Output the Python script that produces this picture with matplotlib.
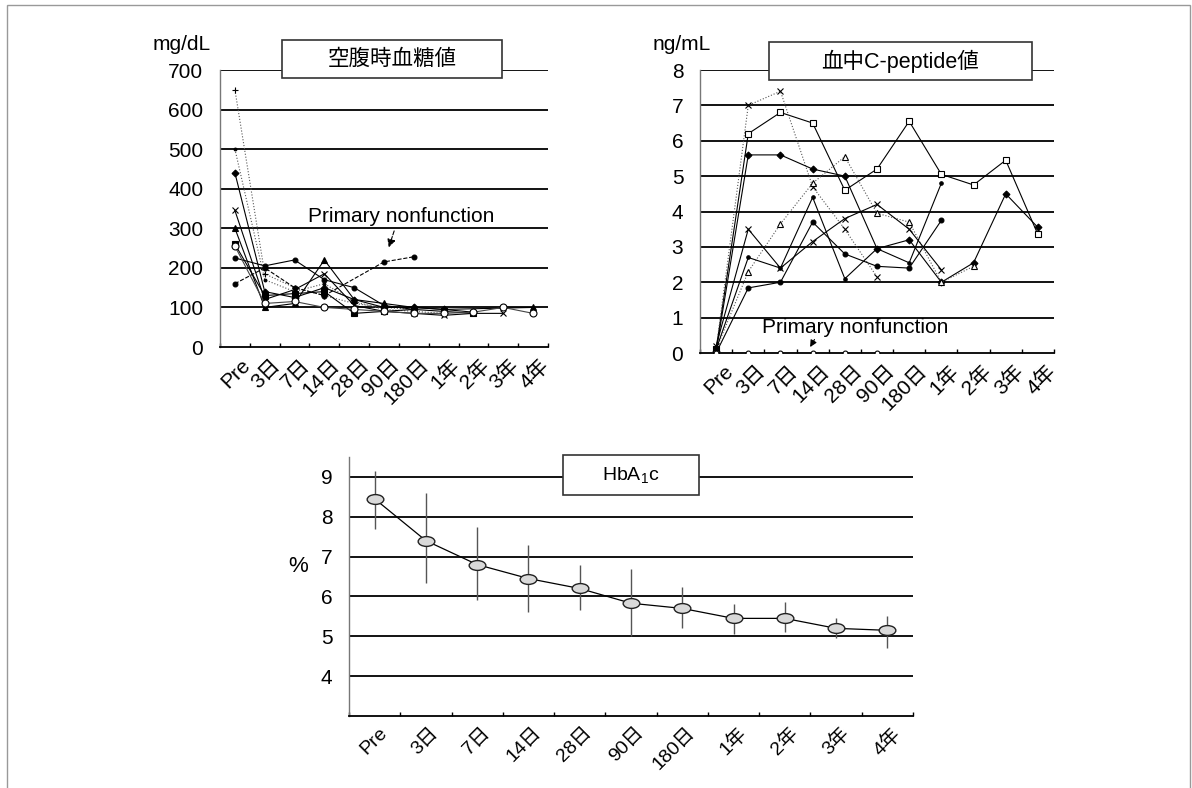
import numpy as np
import matplotlib
matplotlib.use('Agg')
import matplotlib.pyplot as plt
from matplotlib.patches import Rectangle
from matplotlib.path import Path
from matplotlib.transforms import Affine2D, ScaledTranslation

plt.rcParams['font.family'] = ['Liberation Sans', 'Noto Sans CJK JP']
plt.rcParams['mathtext.default'] = 'regular'

nan = np.nan
cats = ['Pre', '3日', '7日', '14日', '28日', '90日', '180日', '1年', '2年', '3年', '4年']

# 空腹時血糖値 (mg/dL), one list per patient
glu_a = [650, 185, 150, 130, 110, 100, 95, nan, nan, nan, nan]
glu_b = [500, 170, 140, 160, 115, 95, 90, 85, nan, nan, nan]
glu_c = [440, 140, 125, 150, 120, 100, 100, 95, 88, nan, nan]
glu_d = [345, 120, 145, 185, 105, 90, 85, 80, 85, 85, nan]
glu_e = [300, 100, 110, 220, 120, 110, 100, 95, nan, nan, 100]
glu_f = [260, 130, 135, 140, 85, 90, 95, 90, 85, nan, nan]
glu_g = [225, 205, 220, 170, 150, 105, 95, nan, nan, nan, nan]
glu_h = [255, 110, 115, 100, 95, 90, 85, 85, 88, 100, 85]
glu_pnf = [160, 200, 150, 130, nan, 215, 228, nan, nan, nan, nan]

# 血中C-peptide値 (ng/mL)
cp_a = [0.1, 6.2, 6.8, 6.5, 4.6, 5.2, 6.55, 5.05, 4.75, 5.45, 3.35]
cp_b = [0.1, 7.0, 7.4, 4.7, 3.5, 2.15, nan, nan, nan, nan, nan]
cp_c = [0.05, 5.6, 5.6, 5.2, 5.0, 2.95, 3.2, 2.0, 2.55, 4.5, 3.55]
cp_d = [0.0, 1.84, 2.0, 3.7, 2.8, 2.45, 2.4, 3.75, nan, nan, nan]
cp_e = [0.1, 2.3, 3.65, 4.8, 5.55, 3.95, 3.7, 2.0, 2.45, nan, nan]
cp_f = [0.2, 3.5, 2.4, 3.15, 3.8, 4.2, 3.5, 2.35, nan, nan, nan]
cp_g = [0.1, 2.7, 2.4, 4.4, 2.1, 2.95, 2.55, 4.8, nan, nan, nan]
cp_pnf = [0, 0, 0, 0, 0, 0, nan, nan, nan, nan, nan]

# HbA1c (%), mean and range
hba1c = [8.45, 7.4, 6.8, 6.45, 6.2, 5.83, 5.7, 5.45, 5.45, 5.2, 5.15]
hba1c_lo = [7.7, 6.35, 5.9, 5.6, 5.65, 5.0, 5.2, 5.05, 5.1, 4.95, 4.7]
hba1c_hi = [9.15, 8.6, 7.75, 7.3, 6.8, 6.7, 6.25, 5.8, 5.85, 5.45, 5.5]

W, H = 1192, 788
fig = plt.figure(figsize=(W / 100, H / 100), dpi=100)


def px_axes(x0, y0, x1, y1):
    return fig.add_axes([x0 / W, 1 - y1 / H, (x1 - x0) / W, (y1 - y0) / H])


def style(ax, ylim, yticks, label_dx, xsize=15):
    ax.set_xlim(-0.5, 10.5)
    ax.set_ylim(*ylim)
    ax.spines['top'].set_visible(False)
    ax.spines['right'].set_visible(False)
    ax.spines['left'].set_color('#777777')
    ax.spines['left'].set_linewidth(1)
    ax.spines['bottom'].set_linewidth(1.3)
    for t in yticks[1:]:
        ax.axhline(t, color='black', lw=1.3, zorder=1)
    ax.set_yticks(yticks)
    ax.tick_params(axis='y', length=0, pad=12, labelsize=15)
    ax.set_xticks(range(len(cats)))
    ax.set_xticklabels(cats, rotation=45, ha='right', rotation_mode='anchor', fontsize=xsize)
    ax.tick_params(axis='x', length=0, pad=6)
    ax.set_xticks(np.arange(-0.5, len(cats), 1), minor=True)
    ax.tick_params(axis='x', which='minor', direction='in', length=3, width=1)
    off = ScaledTranslation(label_dx / 100, 0, fig.dpi_scale_trans)
    for lab in ax.get_xticklabels():
        lab.set_transform(lab.get_transform() + off)


def series(ax, vals, marker, ls='-', color='black', mfc='black', ms=4, lw=0.8):
    x = np.arange(len(vals))
    y = np.array(vals, dtype=float)
    m = ~np.isnan(y)
    ax.plot(x[m], y[m], ls=ls, color=color, lw=lw, marker=marker, ms=ms,
            mfc=mfc, mec='black', mew=0.8, zorder=3)


def title_box(x0, y0, x1, y1, text, size):
    fig.add_artist(Rectangle((x0 / W, 1 - y1 / H), (x1 - x0) / W, (y1 - y0) / H,
                             transform=fig.transFigure, facecolor='white',
                             edgecolor='#333333', lw=1.2, zorder=10))
    fig.text((x0 + x1) / 2 / W, 1 - (y0 + y1) / 2 / H, text, ha='center', va='center',
             fontsize=size, zorder=11)


# outer frame
fig.add_artist(Rectangle((7 / W, -0.05), (1190 - 7) / W, 1 - 5 / H + 0.05,
                         transform=fig.transFigure, fill=False, edgecolor='#999999', lw=1))

# --- fasting glucose ---
ax1 = px_axes(220, 70, 548, 347)
style(ax1, (0, 700), list(range(0, 701, 100)), 6)
series(ax1, glu_a, '+', ls=':', color='#555555', ms=5)
series(ax1, glu_b, '.', ls=':', color='#555555', ms=4)
series(ax1, glu_c, 'D', ms=3.5)
series(ax1, glu_d, 'x', ms=4.5)
series(ax1, glu_e, '^', ms=4)
series(ax1, glu_f, 's', ms=4)
series(ax1, glu_g, 'o', ms=3.5)
series(ax1, glu_h, 'o', mfc='white', ms=5, color='#444444')
series(ax1, glu_pnf, 'o', ls='--', ms=3.5)
ax1.text(5.57, 331, 'Primary nonfunction', ha='center', va='center', fontsize=15)
ax1.annotate('', xy=(5.13, 245), xytext=(5.37, 300),
             arrowprops=dict(arrowstyle='-|>', ls='--', color='black', lw=0.8,
                             mutation_scale=12))
fig.text(153 / W, 1 - 45 / H, 'mg/dL', ha='left', va='center', fontsize=15)
title_box(282, 40, 502, 78, '空腹時血糖値', 15.5)

# --- C-peptide ---
ax2 = px_axes(700, 70, 1054, 353)
style(ax2, (0, 8), list(range(0, 9)), 8)
series(ax2, cp_a, 's', mfc='white', ms=5)
series(ax2, cp_b, 'x', ls=':', color='#555555', ms=4.5)
series(ax2, cp_c, 'D', ms=3.5)
series(ax2, cp_d, 'o', ms=3.5)
series(ax2, cp_e, '^', mfc='white', ms=5, ls=':', color='#555555')
series(ax2, cp_f, 'x', ms=4.5)
series(ax2, cp_g, '.', ms=5)
series(ax2, cp_pnf, 'o', mfc='white', ms=3.5)
ax2.text(4.33, 0.72, 'Primary nonfunction', ha='center', va='center', fontsize=15)
ax2.annotate('', xy=(2.88, 0.1), xytext=(3.1, 0.45),
             arrowprops=dict(arrowstyle='-|>', color='black', lw=0.8, mutation_scale=10))
fig.text(653 / W, 1 - 45 / H, 'ng/mL', ha='left', va='center', fontsize=15)
title_box(769, 42, 1032, 80, '血中C-peptide値', 15.5)

# --- HbA1c ---
ax3 = px_axes(349, 457, 913, 716)
style(ax3, (3, 9.5), list(range(4, 10)), 4, xsize=14)
ax3.axhline(4, color='black', lw=1.3, zorder=1)
x = np.arange(len(hba1c))
hb = np.array(hba1c)
yerr = [hb - np.array(hba1c_lo), np.array(hba1c_hi) - hb]
ax3.errorbar(x, hb, yerr=yerr, fmt='none', ecolor='#555555', elinewidth=1, capsize=0, zorder=2)
ellipse = Path.unit_circle().transformed(Affine2D().scale(1.7, 1.0))
ax3.plot(x, hb, color='black', lw=0.9, marker=ellipse, ms=12, mfc='#d9d9d9',
         mec='#222222', mew=1, zorder=3)
fig.text(298 / W, 1 - 567 / H, '%', ha='center', va='center', fontsize=16)
title_box(563, 455, 699, 495, 'HbA$_1$c', 14)

fig.savefig('out.png', dpi=100)
